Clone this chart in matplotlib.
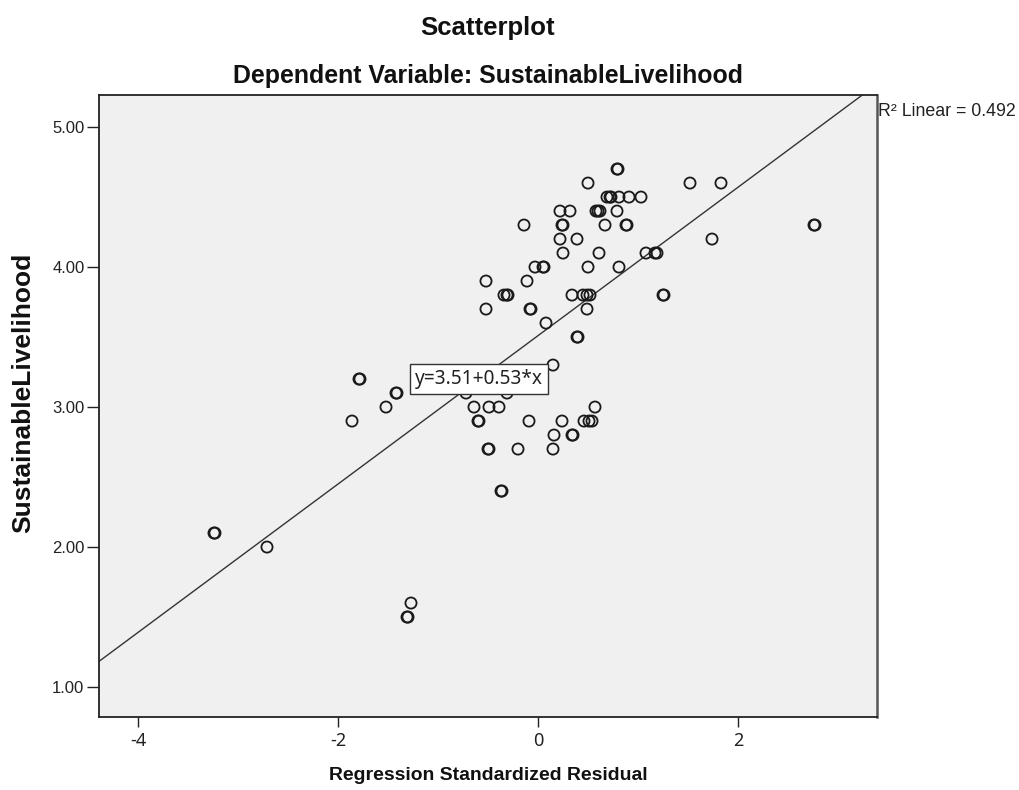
import os
import matplotlib
matplotlib.use("Agg")
import matplotlib.pyplot as plt
from matplotlib import font_manager

# ---------------- data ----------------
resid = [0.79, 0.80,
         0.50, 1.52, 1.83,
         0.69, 0.72, 0.73, 0.81, 0.91, 1.03,
         0.22, 0.32, 0.58, 0.60, 0.62, 0.79,
         -0.14, 0.24, 0.25, 0.67, 0.88, 0.89, 2.76, 2.77,
         0.22, 0.39, 1.74,
         0.25, 0.61, 1.08, 1.17, 1.19,
         -0.03, 0.05, 0.06, 0.50, 0.81,
         -0.52, -0.11,
         -0.34, -0.31, -0.30, 0.34, 0.45, 0.49, 0.52, 1.25, 1.26,
         -0.52, -0.08, -0.07, 0.49,
         0.08,
         0.39, 0.40,
         0.15,
         -1.79, -1.78,
         -1.42, -1.41, -0.72, -0.31,
         -1.52, -0.64, -0.49, -0.39, 0.57,
         -1.86, -0.60, -0.59, -0.09, 0.24, 0.46, 0.51, 0.54,
         0.16, 0.34, 0.35,
         -0.50, -0.49, -0.20, 0.15,
         -0.37, -0.36,
         -3.24, -3.23,
         -2.71,
         -1.27,
         -1.31, -1.30]
livelihood = [4.7, 4.7,
              4.6, 4.6, 4.6,
              4.5, 4.5, 4.5, 4.5, 4.5, 4.5,
              4.4, 4.4, 4.4, 4.4, 4.4, 4.4,
              4.3, 4.3, 4.3, 4.3, 4.3, 4.3, 4.3, 4.3,
              4.2, 4.2, 4.2,
              4.1, 4.1, 4.1, 4.1, 4.1,
              4.0, 4.0, 4.0, 4.0, 4.0,
              3.9, 3.9,
              3.8, 3.8, 3.8, 3.8, 3.8, 3.8, 3.8, 3.8, 3.8,
              3.7, 3.7, 3.7, 3.7,
              3.6,
              3.5, 3.5,
              3.3,
              3.2, 3.2,
              3.1, 3.1, 3.1, 3.1,
              3.0, 3.0, 3.0, 3.0, 3.0,
              2.9, 2.9, 2.9, 2.9, 2.9, 2.9, 2.9, 2.9,
              2.8, 2.8, 2.8,
              2.7, 2.7, 2.7, 2.7,
              2.4, 2.4,
              2.1, 2.1,
              2.0,
              1.6,
              1.5, 1.5]
intercept = 3.51
slope = 0.53
r2_linear = 0.492
xticks = [-4, -2, 0, 2]
yticks = [1.0, 2.0, 3.0, 4.0, 5.0]
title1 = "Scatterplot"
title2 = "Dependent Variable: SustainableLivelihood"
xlabel = "Regression Standardized Residual"
ylabel = "SustainableLivelihood"

SANS = "Liberation Sans"


def find_file(patterns):
    files = [f.fname for f in font_manager.fontManager.ttflist]
    for pat in patterns:
        for fn in files:
            if os.path.basename(fn).lower() == pat.lower():
                return fn
    return None


cond_reg_file = find_file(["LiberationSansNarrow-Regular.ttf",
                           "NotoSans-Condensed.ttf",
                           "NotoSans-CondensedRegular.ttf"])
cond_bold_file = find_file(["LiberationSansNarrow-Bold.ttf",
                            "NotoSans-CondensedBold.ttf",
                            "NotoSans-SemiCondensedBold.ttf"])

if cond_reg_file:
    COND = dict(fontproperties=font_manager.FontProperties(fname=cond_reg_file))
else:
    COND = dict(fontfamily="Noto Sans", fontstretch="condensed")
if cond_bold_file:
    COND_B = dict(fontproperties=font_manager.FontProperties(fname=cond_bold_file))
    XLAB_TARGET = 287.0
else:
    COND_B = dict(fontfamily=SANS, fontweight="bold")
    XLAB_TARGET = 318.0

W, H = 1019, 790
fig = plt.figure(figsize=(W / 100, H / 100), dpi=100)
fig.patch.set_facecolor("white")

L, R, T, B = 99, 877, 95, 717
ax = fig.add_axes([L / W, 1 - B / H, (R - L) / W, (B - T) / H])
ax.set_facecolor("#F0F0F0")
ax.set_xlim(-4.39, 3.39)
ax.set_ylim(0.786, 5.229)

for s in ax.spines.values():
    s.set_color("#222222")
    s.set_linewidth(1.3)
ax.spines["right"].set_color("#555555")
ax.spines["right"].set_linewidth(1.8)

ax.scatter(resid, livelihood, s=64, facecolors="none", edgecolors="#1a1a1a",
           linewidths=1.3, zorder=3)

xl = ax.get_xlim()
ax.plot(list(xl), [intercept + slope * xl[0], intercept + slope * xl[1]],
        color="#333333", lw=1.0, zorder=2, clip_on=True)

ax.set_xticks(xticks)
xtl = ax.set_xticklabels([f"{t:g}" for t in xticks], color="#222222", **COND)
for t in xtl:
    t.set_fontsize(13)
ax.set_yticks(yticks)
ax.set_yticklabels([f"{t:.2f}" for t in yticks], fontfamily=SANS, fontsize=12,
                   color="#222222")
ax.tick_params(axis="y", direction="out", length=8.5, width=1.0, pad=2,
               color="#222222")
ax.tick_params(axis="x", direction="out", length=7.5, width=1.0, pad=3.5,
               color="#222222")

eq = ax.text(-0.59, 3.2, f"y={intercept:.2f}+{slope:.2f}*x", ha="center",
             va="center", color="#222222", zorder=5,
             bbox=dict(boxstyle="square,pad=0.25", facecolor="white",
                       edgecolor="#333333", linewidth=1.0), **COND)
eq.set_fontsize(15)

fig.text(878 / W, 1 - 112 / H, f"R\u00b2 Linear = {r2_linear:.3f}", ha="left",
         va="center", fontfamily=SANS, fontsize=12.8, color="#222222")

fig.text(488 / W, 1 - 35 / H, title1, ha="center", va="baseline",
         fontfamily=SANS, fontweight="bold", fontsize=18.5, color="#111111")
fig.text(488 / W, 1 - 83 / H, title2, ha="center", va="baseline",
         fontfamily=SANS, fontweight="bold", fontsize=17.9, color="#111111")
xlab = fig.text(488 / W, 1 - 776 / H, xlabel, ha="center", va="center",
                color="#111111", **COND_B)
xlab.set_fontsize(16)
fig.text(23 / W, 1 - 393 / H, ylabel, ha="center", va="center", rotation=90,
         fontfamily=SANS, fontweight="bold", fontsize=19, color="#111111")

# scale the condensed texts so that their widths match the reference
renderer = fig.canvas.get_renderer()
for t, target in [(xlab, XLAB_TARGET), (eq, 128.0)]:
    w = t.get_window_extent(renderer).width
    if w > 0:
        t.set_fontsize(t.get_fontsize() * target / w)

fig.savefig("out.png", dpi=100)
